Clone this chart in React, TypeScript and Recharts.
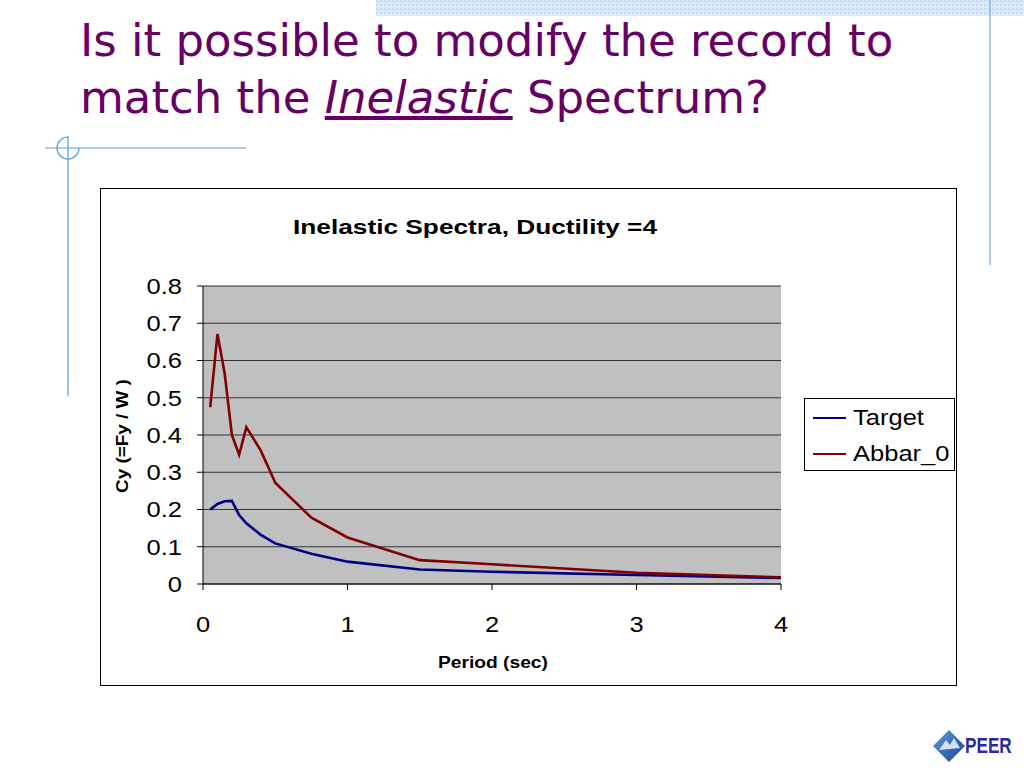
import { CartesianGrid, Legend, Line, LineChart, XAxis, YAxis } from "recharts";

const targetPeriods = [0.05, 0.1, 0.15, 0.2, 0.25, 0.3, 0.4, 0.5, 0.75, 1, 1.5, 2, 3, 4];
const targetCy = [0.2, 0.215, 0.222, 0.223, 0.185, 0.163, 0.132, 0.109, 0.081, 0.06, 0.039, 0.033, 0.024, 0.016];

const abbarPeriods = [0.05, 0.1, 0.15, 0.2, 0.25, 0.3, 0.4, 0.5, 0.75, 1, 1.5, 2, 3, 4];
const abbarCy = [0.475, 0.671, 0.565, 0.4, 0.347, 0.421, 0.358, 0.272, 0.178, 0.125, 0.064, 0.053, 0.03, 0.018];

const xTicks = [0, 1, 2, 3, 4];
const yTicks = [0, 0.1, 0.2, 0.3, 0.4, 0.5, 0.6, 0.7, 0.8];

const targetData = targetPeriods.map((t, i) => ({ t, cy: targetCy[i] }));
const abbarData = abbarPeriods.map((t, i) => ({ t, cy: abbarCy[i] }));

const seriesList = [
  { name: "Target", color: "#000080", data: targetData },
  { name: "Abbar_0", color: "#800000", data: abbarData },
];

const font = "'Liberation Sans', Arial, sans-serif";
// the chart's text in the slide is drawn a bit wide, so stretch it
const stretch = 1.16;

function YTick(props: any) {
  const { x, y, payload } = props;
  const v = payload.value as number;
  return (
    <text
      x={x}
      y={y}
      dy="0.36em"
      textAnchor="end"
      fontFamily={font}
      fontSize={22}
      fill="#000"
      transform={`translate(${x},0) scale(${stretch},1) translate(${-x},0)`}
    >
      {v === 0 ? "0" : v.toFixed(1)}
    </text>
  );
}

function XTick(props: any) {
  const { x, y, payload } = props;
  return (
    <text
      x={x}
      y={y}
      dy="0.71em"
      textAnchor="middle"
      fontFamily={font}
      fontSize={22}
      fill="#000"
      transform={`translate(${x},0) scale(${stretch},1) translate(${-x},0)`}
    >
      {payload.value}
    </text>
  );
}

function LegendBox() {
  return (
    <div
      style={{
        position: "absolute",
        left: 703,
        top: 209,
        width: 151,
        height: 73,
        boxSizing: "border-box",
        border: "1px solid #000",
        background: "#fff",
        fontFamily: font,
        fontSize: 22,
        color: "#000",
      }}
    >
      {seriesList.map((s, i) => (
        <div key={s.name} style={{ position: "absolute", left: 8, top: 6 + i * 36, display: "flex", alignItems: "center" }}>
          <div style={{ width: 33, height: 2, background: s.color, marginRight: 7 }} />
          <span style={{ display: "inline-block", transform: `scaleX(${stretch})`, transformOrigin: "left center" }}>{s.name}</span>
        </div>
      ))}
    </div>
  );
}

function PeerLogo() {
  return (
    <div style={{ position: "absolute", left: 930, top: 726, width: 92, height: 40 }}>
      <svg width={40} height={40} style={{ position: "absolute", left: 0, top: 0 }}>
        <defs>
          <linearGradient id="dg" x1="0" y1="0" x2="1" y2="1">
            <stop offset="0" stopColor="#5fa0e0" />
            <stop offset="1" stopColor="#1a3f9a" />
          </linearGradient>
        </defs>
        <polygon points="19,4 35,20 19,36 3,20" fill="url(#dg)" />
        <polygon points="9,24 16,14 20,19 24,12 30,22" fill="#f0f4ff" opacity={0.85} />
      </svg>
      <div
        style={{
          position: "absolute",
          left: 35,
          top: 8,
          fontFamily: font,
          fontWeight: "bold",
          fontSize: 22,
          lineHeight: "24px",
          color: "#2a2a9a",
          transform: "scaleX(0.78)",
          transformOrigin: "left center",
        }}
      >
        PEER
      </div>
    </div>
  );
}

export default function App() {
  return (
    <div style={{ position: "fixed", left: 0, top: 0, width: 1024, height: 768, background: "#fff", overflow: "hidden" }}>
      <svg width={1024} height={768} style={{ position: "absolute", left: 0, top: 0 }}>
        <defs>
          <pattern id="dots" width="4" height="4" patternUnits="userSpaceOnUse">
            <rect width="4" height="4" fill="#dce9fa" />
            <rect width="2" height="2" fill="#c4dbf5" />
          </pattern>
        </defs>
        <rect x={376} y={0} width={648} height={16} fill="url(#dots)" />
        <line x1={990} y1={0} x2={990} y2={265} stroke="#8fb4e0" strokeWidth={1.5} />
        <line x1={45} y1={148} x2={246} y2={148} stroke="#5b9bd5" strokeWidth={1.2} />
        <line x1={68} y1={136} x2={68} y2={396} stroke="#5b9bd5" strokeWidth={1.2} />
        <path d="M 68 137 A 11 11 0 1 0 79 148" fill="none" stroke="#5b9bd5" strokeWidth={1.2} />
      </svg>

      <div
        style={{
          position: "absolute",
          left: 80,
          top: 12,
          fontFamily: "'DejaVu Sans', Tahoma, sans-serif",
          fontSize: 45,
          lineHeight: "57px",
          color: "#660066",
          whiteSpace: "nowrap",
        }}
      >
        <div>Is it possible to modify the record to</div>
        <div>
          match the <span style={{ fontStyle: "italic", textDecoration: "underline" }}>Inelastic</span> Spectrum?
        </div>
      </div>

      <div
        style={{
          position: "absolute",
          left: 100,
          top: 188,
          width: 857,
          height: 498,
          boxSizing: "border-box",
          border: "1px solid #000",
          background: "#fff",
        }}
      >
        <div
          style={{
            position: "absolute",
            left: 0,
            width: 748,
            top: 26,
            textAlign: "center",
            fontFamily: font,
            fontWeight: "bold",
            fontSize: 21,
            color: "#000",
            transform: "scaleX(1.25)",
          }}
        >
          Inelastic Spectra, Ductility =4
        </div>
        <div
          style={{
            position: "absolute",
            left: 103,
            width: 578,
            top: 465,
            textAlign: "center",
            fontFamily: font,
            fontWeight: "bold",
            fontSize: 16,
            color: "#000",
            transform: "scaleX(1.2)",
          }}
        >
          Period (sec)
        </div>
        <div
          style={{
            position: "absolute",
            left: 22 - 100,
            width: 200,
            top: 247 - 10,
            height: 20,
            lineHeight: "20px",
            textAlign: "center",
            fontFamily: font,
            fontWeight: "bold",
            fontSize: 16,
            color: "#000",
            transform: "rotate(-90deg) scaleX(1.18)",
          }}
        >
          Cy (=Fy / W )
        </div>
        <div style={{ position: "absolute", left: -1, top: -1 }}>
          <LineChart width={857} height={498} margin={{ top: 98, right: 176, left: 0, bottom: 0 }}>
            <CartesianGrid vertical={false} fill="#c0c0c0" stroke="#222" strokeOpacity={0.9} horizontalValues={yTicks} />
            <XAxis
              dataKey="t"
              type="number"
              domain={[0, 4]}
              ticks={xTicks}
              allowDuplicatedCategory={false}
              height={102}
              stroke="#000"
              tickSize={6}
              tickMargin={26}
              tick={<XTick />}
            />
            <YAxis
              type="number"
              domain={[0, 0.8]}
              ticks={yTicks}
              width={103}
              stroke="#000"
              tickSize={6}
              tickMargin={15}
              tick={<YTick />}
            />
            <Legend content={() => null} />
            {seriesList.map((s) => (
              <Line
                key={s.name}
                data={s.data}
                dataKey="cy"
                name={s.name}
                type="linear"
                stroke={s.color}
                strokeWidth={2.6}
                dot={false}
                isAnimationActive={false}
              />
            ))}
          </LineChart>
        </div>
        <LegendBox />
      </div>

      <PeerLogo />
    </div>
  );
}
